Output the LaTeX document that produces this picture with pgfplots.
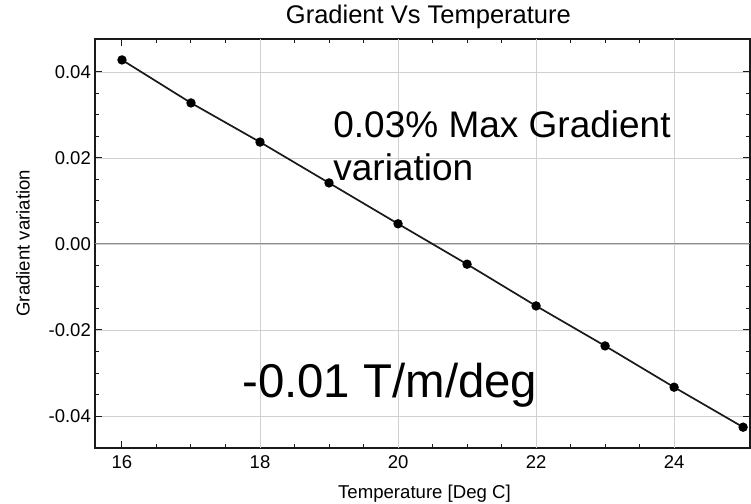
\documentclass[border=0pt]{standalone}
\usepackage{pgfplots}
\pgfplotsset{compat=1.18}
\usepackage{fontspec}
\setmainfont{Liberation Sans}

\definecolor{gridcol}{HTML}{D0D0D0}
\definecolor{zerocol}{HTML}{8C8C8C}
\definecolor{framecol}{HTML}{1A1A1A}

\begin{document}
\begin{tikzpicture}
\useasboundingbox (-95bp,-56bp) rectangle (656bp,448bp);
\begin{axis}[
  at={(0,0)}, anchor=south west,
  scale only axis, width=655bp, height=409bp,
  xmin=15.609, xmax=25.10,
  ymin=-0.04744, ymax=0.04767,
  axis line style={framecol, line width=1.2bp},
  xtick={16,18,20,22,24},
  ytick={-0.04,-0.02,0,0.02,0.04},
  minor x tick num=3, minor y tick num=3,
  tick align=inside,
  major tick length=7bp, minor tick length=4.5bp,
  every tick/.style={framecol, line width=1bp},
  ymajorgrids, major grid style={gridcol, line width=0.9bp},
  /pgf/number format/assume math mode=true,
  tick label style={font=\fontsize{18.5bp}{22bp}\selectfont, text=black},
  xticklabel style={anchor=base, yshift=-20bp},
  yticklabel style={anchor=east, inner sep=0pt, xshift=-4bp,
    /pgf/number format/fixed, /pgf/number format/fixed zerofill,
    /pgf/number format/precision=2},
  scaled y ticks=false,
  title={Gradient Vs Temperature},
  title style={at={(axis description cs:0.509,1)}, anchor=base, yshift=10bp,
    inner sep=0pt, font=\fontsize{25.5bp}{30bp}\selectfont},
  xlabel={Temperature [Deg C]},
  every axis x label/.style={at={(axis description cs:0.503,0)}, anchor=base,
    yshift=-50bp, inner sep=0pt, font=\fontsize{18.6bp}{22bp}\selectfont},
  ylabel={Gradient variation},
  every axis y label/.style={at={(axis description cs:-0.1098,0.501)}, rotate=90,
    anchor=center, inner sep=0pt, font=\fontsize{18.6bp}{22bp}\selectfont},
]
% vertical grid lines (none at the first tick)
\pgfplotsinvokeforeach{18,20,22,24}{
  \draw[gridcol, line width=0.9bp] (axis cs:#1,-0.04744) -- (axis cs:#1,0.04767);
}
% zero line
\draw[zerocol, line width=1bp] (axis cs:15.609,0) -- (axis cs:25.10,0);

% measured gradient variation against temperature
\addplot[black!90, line width=1.7bp, mark=*, mark size=3.8bp,
  mark options={fill=black, draw=black}] coordinates {
  (16, 0.0428)
  (17, 0.0328)
  (18, 0.0237)
  (19, 0.0142)
  (20, 0.0047)
  (21,-0.0047)
  (22,-0.0144)
  (23,-0.0237)
  (24,-0.0333)
  (25,-0.0426)
};

\node[anchor=base west, inner sep=0pt, font=\fontsize{37bp}{43bp}\selectfont]
  at (axis cs:19.06,0.02465) {0.03\% Max Gradient};
\node[anchor=base west, inner sep=0pt, font=\fontsize{37bp}{43bp}\selectfont]
  at (axis cs:19.06,0.01465) {variation};
\node[anchor=base west, inner sep=0pt, font=\fontsize{47.4bp}{55bp}\selectfont]
  at (axis cs:17.74,-0.0356) {-0.01 T/m/deg};
\end{axis}
\end{tikzpicture}
\end{document}
